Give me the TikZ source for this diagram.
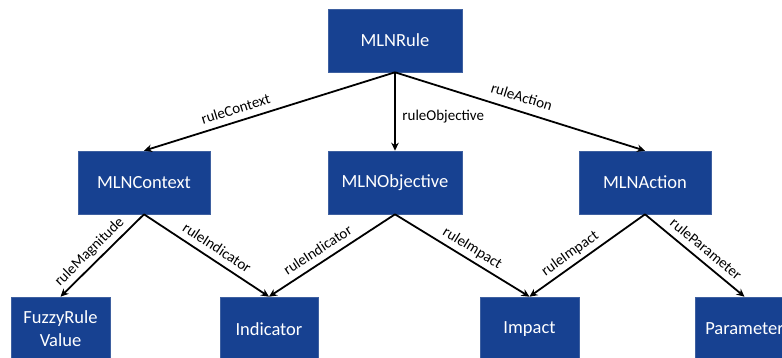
\documentclass[tikz,border=0pt]{standalone}
\usepackage{fontspec}
\setmainfont{Carlito}
\usetikzlibrary{arrows.meta}
\definecolor{boxblue}{RGB}{23,65,145}
\definecolor{boxedge}{RGB}{62,96,160}
\begin{document}
\begin{tikzpicture}[x=1pt,y=-1pt,
  box/.style={fill=boxblue, draw=boxedge, line width=0.6pt, text=white, inner sep=0pt,
    font=\fontsize{18.5}{23}\selectfont, align=center},
  topbox/.style={box, minimum height=63pt},
  botbox/.style={box, minimum height=64pt, minimum width=99pt},
  conn/.style={draw=black, line width=1.8pt, -{Stealth[length=8pt,width=7.5pt]}},
  lbl/.style={font=\fontsize{15}{18}\selectfont, sloped, above=4pt, inner sep=0pt,
    text height=8pt, text depth=2.5pt}]
\useasboundingbox (0,0) rectangle (782,358);
\clip (0,0) rectangle (782,358);

\node[topbox, minimum width=134pt] (rule) at (395,40.5) {MLNRule};
\node[topbox, minimum width=132pt] (ctx) at (144,182.5) {MLNContext};
\node[topbox, minimum width=134pt] (obj) at (395,182.5) {MLNObjective};
\node[topbox, minimum width=132pt] (act) at (645,182.5) {MLNAction};

\node[botbox] (fuz) at (60.5,329) {FuzzyRule\\Value};
\node[botbox, minimum width=98pt] (ind) at (269,329) {Indicator};
\node[botbox] (imp) at (529.5,329) {Impact};
\node[botbox] (par) at (744.5,329) {Parameter};

\draw[conn] (rule.south) -- node[lbl, pos=0.62] (l1) {ruleContext} (ctx.north);
\draw[conn] (rule.south) -- node[pos=0.56, anchor=west, xshift=6.5pt, inner sep=0pt,
  font=\fontsize{15}{18}\selectfont] (l2) {ruleObjective} (obj.north);
\draw[conn] (rule.south) -- node[lbl, pos=0.49, above=2pt] (l3) {ruleAction} (act.north);

\draw[conn] (ctx.south) -- node[lbl, pos=0.556] (l4) {ruleMagnitude} (fuz.north);
\draw[conn] (ctx.south) -- node[lbl, pos=0.53] (l5) {ruleIndicator} (ind.north);
\draw[conn] (obj.south) -- node[lbl, pos=0.56] (l6) {ruleIndicator} (ind.north);
\draw[conn] (obj.south) -- node[lbl, pos=0.53] (l7) {ruleImpact} (imp.north);
\draw[conn] (act.south) -- node[lbl, pos=0.59] (l8) {ruleImpact} (imp.north);
\draw[conn] (act.south) -- node[lbl, pos=0.535] (l9) {ruleParameter} (par.north);
\end{tikzpicture}
\end{document}
